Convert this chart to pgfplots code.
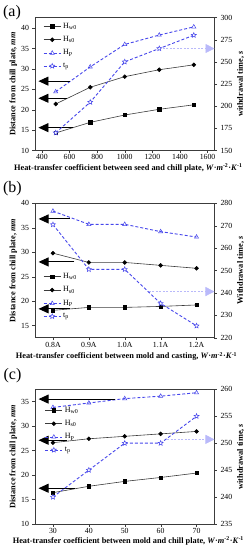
\documentclass[border=0pt]{standalone}
\usepackage{fontspec}
\setmainfont{Liberation Serif}
\usepackage{pgfplots}
\pgfplotsset{compat=1.18}
\usetikzlibrary{arrows.meta}

\definecolor{myblue}{RGB}{70,70,235}
\definecolor{lightarrcol}{RGB}{185,185,250}
\definecolor{darkline}{RGB}{60,60,60}

\pgfdeclareplotmark{ostar}{%
  \pgfpathmoveto{\pgfpointpolar{90}{\pgfplotmarksize}}%
  \pgfpathlineto{\pgfpointpolar{126}{0.45\pgfplotmarksize}}%
  \pgfpathlineto{\pgfpointpolar{162}{\pgfplotmarksize}}%
  \pgfpathlineto{\pgfpointpolar{198}{0.45\pgfplotmarksize}}%
  \pgfpathlineto{\pgfpointpolar{234}{\pgfplotmarksize}}%
  \pgfpathlineto{\pgfpointpolar{270}{0.45\pgfplotmarksize}}%
  \pgfpathlineto{\pgfpointpolar{306}{\pgfplotmarksize}}%
  \pgfpathlineto{\pgfpointpolar{342}{0.45\pgfplotmarksize}}%
  \pgfpathlineto{\pgfpointpolar{18}{\pgfplotmarksize}}%
  \pgfpathlineto{\pgfpointpolar{54}{0.45\pgfplotmarksize}}%
  \pgfpathclose
  \pgfusepathqfillstroke}

\newcommand{\xunit}{\textit{W}·\textit{m}\textsuperscript{-2}·\textit{K}\textsuperscript{-1}}

\tikzset{
  blackarr/.style={black, line width=0.9pt, -{Triangle[length=10pt,width=9pt]}},
  lightarrow/.style={lightarrcol, line width=0.7pt, dash pattern=on 2pt off 1.5pt, -{Triangle[length=9pt,width=9pt]}},
}

\pgfplotsset{
  hw/.style={darkline, line width=0.6pt, mark=square*, mark size=1.6pt, mark options={solid, fill=black, draw=black}},
  hs/.style={darkline, line width=0.6pt, mark=*, mark size=1.9pt, mark options={solid, fill=black, draw=black}},
  hp/.style={myblue, line width=0.9pt, dash pattern=on 3pt off 2pt, mark=triangle, mark size=2.4pt, mark options={solid, fill=white, line width=0.5pt}},
  tp/.style={myblue, line width=0.9pt, dash pattern=on 3pt off 2pt, mark=ostar, mark size=2.6pt, mark options={solid, fill=white, line width=0.5pt}},
  base/.style={scale only axis, width=179.5pt, anchor=south west, tick align=outside,
    ticklabel style={font=\fontsize{7.8}{8.5}\selectfont},
    /pgf/number format/assume math mode=true,
    /pgf/number format/1000 sep={},
    xticklabel style={inner sep=1.5pt},
    label style={font=\bfseries\fontsize{8.3}{9}\selectfont},
    clip=false, axis line style={darkline}, tick style={darkline}, major tick length=2.5pt},
  leftax/.style={base, ytick pos=left, xtick pos=bottom,
    ylabel style={at={(axis description cs:-0.12,0.5)}, anchor=center}},
  rightax/.style={base, axis x line=none, axis y line*=right,
    ylabel style={at={(axis description cs:1.145,0.5)}, anchor=center},
    legend cell align=left,
    legend style={draw=none, fill=none, anchor=north west, font=\fontsize{8}{9}\selectfont, row sep=2.6pt}},
}

\begin{document}
\begin{tikzpicture}
\useasboundingbox (0,0) rectangle (249pt,550pt);

% ---------------- (a) ----------------
\node[font=\fontsize{16}{16}\selectfont] at (12pt,537pt) {(a)};
\begin{axis}[leftax, at={(35pt,399.5pt)}, height=133pt,
  xmin=350, xmax=1650, xtick={400,600,...,1600},
  ymin=10, ymax=42.6, ytick={10,15,...,40},
  xlabel={Heat-transfer coefficient between seed and chill plate, \xunit},
  xlabel style={at={(axis description cs:0.52,-0.13)}, anchor=center},
  ylabel={Distance from chill plate, \textit{mm}}]
\addplot[hw] coordinates {(500,14.3)(750,16.9)(1000,18.7)(1250,20.1)(1500,21.2)};
\addplot[hs] coordinates {(500,21.4)(750,25.5)(1000,28.1)(1250,29.8)(1500,31.0)};
\addplot[hp] coordinates {(500,24.4)(750,30.5)(1000,36.0)(1250,38.3)(1500,40.3)};
\draw[blackarr] (axis cs:603,27.0) -- (axis cs:375,27.0);
\draw[blackarr] (axis cs:580,22.8) -- (axis cs:375,22.8);
\draw[blackarr] (axis cs:627,15.6) -- (axis cs:375,15.6);
\end{axis}
\begin{axis}[rightax, at={(35pt,399.5pt)}, height=133pt,
  xmin=350, xmax=1650,
  ymin=150, ymax=300, ytick={150,175,...,300},
  ylabel={withdrawal time, \textit{s}},
  legend style={at={(axis description cs:0.028,0.99)}}]
\addlegendimage{hw}\addlegendentry{H\textsubscript{w0}}
\addlegendimage{hs}\addlegendentry{H\textsubscript{s0}}
\addlegendimage{hp}\addlegendentry{H\textsubscript{P}}
\addplot[tp] coordinates {(500,170)(750,204.5)(1000,250)(1250,265)(1500,280)};
\addlegendentry{t\textsubscript{p}}
\draw[lightarrow] (axis cs:1250,265) -- (axis cs:1650,265);
\end{axis}

% ---------------- (b) ----------------
\node[font=\fontsize{16}{16}\selectfont] at (12.5pt,361pt) {(b)};
\begin{axis}[leftax, at={(35pt,212.3pt)}, height=134.4pt,
  xmin=-0.5, xmax=4.5, xtick={0,1,2,3,4}, xticklabels={0.8A,0.9A,1.0A,1.1A,1.2A},
  ymin=12.5, ymax=40, ytick={15,20,...,40},
  xlabel={Heat-transfer coefficient between mold and casting, \xunit},
  xlabel style={at={(axis description cs:0.51,-0.14)}, anchor=center},
  ylabel={Distance from chill plate, \textit{mm}}]
\addplot[hw] coordinates {(0,18.1)(1,18.7)(2,18.7)(3,18.9)(4,19.2)};
\addplot[hs] coordinates {(0,29.8)(1,27.9)(2,27.9)(3,27.3)(4,26.7)};
\addplot[hp] coordinates {(0,38.4)(1,35.7)(2,35.7)(3,34.2)(4,33.1)};
\draw[blackarr] (axis cs:0.48,36.8) -- (axis cs:-0.40,36.8);
\draw[blackarr] (axis cs:0.60,28.0) -- (axis cs:-0.40,28.0);
\draw[blackarr] (axis cs:0.48,18.4) -- (axis cs:-0.40,18.4);
\end{axis}
\begin{axis}[rightax, at={(35pt,212.3pt)}, height=134.4pt,
  xmin=-0.5, xmax=4.5,
  ymin=220, ymax=280, ytick={220,230,...,280},
  ylabel={Withdrawal time, \textit{s}},
  legend style={at={(axis description cs:0.028,0.51)}}]
\addlegendimage{hw}\addlegendentry{H\textsubscript{w0}}
\addlegendimage{hs}\addlegendentry{H\textsubscript{s0}}
\addlegendimage{hp}\addlegendentry{H\textsubscript{P}}
\addplot[tp] coordinates {(0,270.5)(1,250.5)(2,250.5)(3,235.3)(4,225.3)};
\addlegendentry{t\textsubscript{p}}
\draw[lightarrow] (axis cs:2.67,240.6) -- (axis cs:4.5,240.6);
\end{axis}

% ---------------- (c) ----------------
\node[font=\fontsize{16}{16}\selectfont] at (12.5pt,174pt) {(c)};
\begin{axis}[leftax, at={(35pt,26pt)}, height=134.7pt,
  xmin=25, xmax=75, xtick={30,40,...,70},
  ymin=10, ymax=37.5, ytick={10,15,...,35},
  xlabel={Heat-transfer coefficient between mold and chill plate, \xunit},
  xlabel style={at={(axis description cs:0.52,-0.128)}, anchor=center},
  ylabel={Distance from chill plate, \textit{mm}}]
\addplot[hw] coordinates {(30,16.4)(40,17.7)(50,18.7)(60,19.5)(70,20.4)};
\addplot[hs] coordinates {(30,26.6)(40,27.4)(50,27.9)(60,28.4)(70,28.9)};
\addplot[hp] coordinates {(30,33.8)(40,34.7)(50,35.6)(60,36.1)(70,36.8)};
\draw[blackarr] (axis cs:47.3,35.5) -- (axis cs:26,35.5);
\draw[blackarr] (axis cs:33.9,27.1) -- (axis cs:26,27.1);
\draw[blackarr] (axis cs:36.1,17.3) -- (axis cs:26,17.3);
\end{axis}
\begin{axis}[rightax, at={(35pt,26pt)}, height=134.7pt,
  xmin=25, xmax=75,
  ymin=235, ymax=260, ytick={235,240,...,260},
  ylabel={withdrawal time, \textit{s}},
  legend style={at={(axis description cs:0.037,0.9)}}]
\addlegendimage{hw}\addlegendentry{H\textsubscript{w0}}
\addlegendimage{hs}\addlegendentry{H\textsubscript{s0}}
\addlegendimage{hp}\addlegendentry{H\textsubscript{P}}
\addplot[tp] coordinates {(30,240)(40,245)(50,250)(60,250)(70,255)};
\addlegendentry{t\textsubscript{p}}
\draw[lightarrow] (axis cs:61.8,250.7) -- (axis cs:75,250.7);
\end{axis}
\end{tikzpicture}
\end{document}
